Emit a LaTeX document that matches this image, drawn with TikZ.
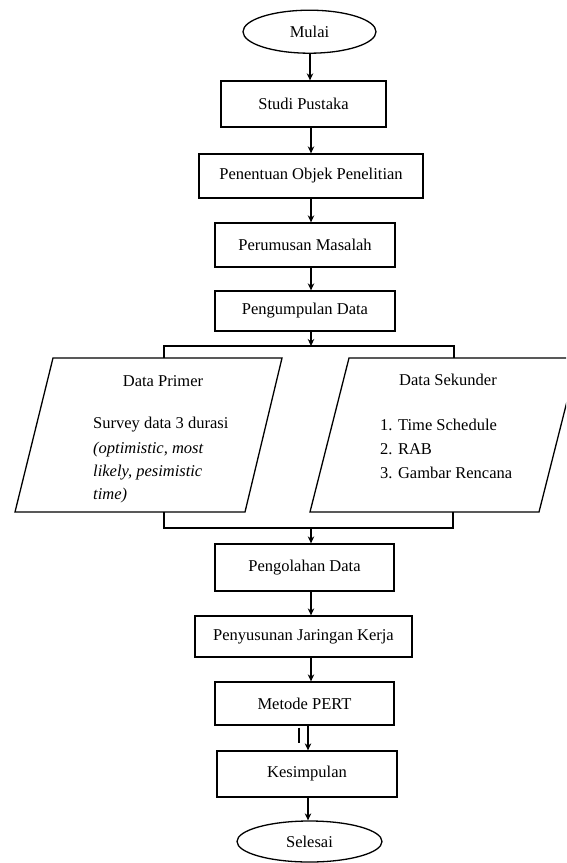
\documentclass[tikz,border=0pt]{standalone}
\usepackage{fontspec}
\setmainfont{Liberation Serif}
\usetikzlibrary{arrows.meta,shapes.geometric}
\begin{document}
\begin{tikzpicture}[x=1pt,y=-1pt,
  every node/.style={font=\fontsize{16.5}{19}\selectfont, inner sep=0pt},
  box/.style={draw, line width=1.3pt, rectangle},
  term/.style={draw, line width=1.3pt, ellipse},
  arr/.style={line width=1.3pt, -{Stealth[length=7pt,width=6.5pt]}},
  ln/.style={line width=1.3pt}]
\useasboundingbox (0,0) rectangle (566,863);
\clip (0,0) rectangle (566,863);
% nodes
\node[term, minimum width=133pt, minimum height=43pt] (mulai) at (309.5,31.7) {Mulai};
\node[box, minimum width=165pt, minimum height=46pt] (studi) at (303.5,104) {Studi Pustaka};
\node[box, minimum width=224pt, minimum height=44pt] (objek) at (311,176) {Penentuan Objek Penelitian};
\node[box, minimum width=180pt, minimum height=44pt] (rumus) at (305,245) {Perumusan Masalah};
\node[box, minimum width=180pt, minimum height=40pt] (kumpul) at (305,311) {Pengumpulan Data};
\node[box, minimum width=179pt, minimum height=47pt] (olah) at (304.5,567.5) {Pengolahan Data};
\node[box, minimum width=217pt, minimum height=41pt] (susun) at (303.5,636.5) {Penyusunan Jaringan Kerja};
\node[box, minimum width=179pt, minimum height=43pt] (pert) at (304.5,703.5) {Metode PERT};
\node[box, minimum width=180pt, minimum height=46pt] (simpul) at (307,774) {Kesimpulan};
\node[term, minimum width=145pt, minimum height=41pt] (selesai) at (309.5,841.5) {Selesai};
% parallelograms
\draw[ln] (53,358) -- (282,358) -- (245,512) -- (15,512) -- cycle;
\draw[ln] (349,358) -- (578,358) -- (539,512) -- (310,512) -- cycle;
\node (primer) at (163,381) {Data Primer};
\node[anchor=west] (p1) at (93,425) {Survey data 3 durasi};
\node[anchor=west] (p2) at (93,450) {\itshape (optimistic, most};
\node[anchor=west] (p3) at (93,473) {\itshape likely, pesimistic};
\node[anchor=west] (p4) at (93,496) {\itshape time)};
\node (sekunder) at (448,380) {Data Sekunder};
\node[anchor=west] (s1) at (380,425) {1. Time Schedule};
\node[anchor=west] (s2) at (380,449) {2. RAB};
\node[anchor=west] (s3) at (380,473) {3. Gambar Rencana};
% coordinates
\coordinate (cx) at (311,0);
\coordinate (cy) at (308,0);
\coordinate (jt) at (311,346);
\coordinate (pl) at (164,358);
\coordinate (pr) at (454,358);
\coordinate (plb) at (164,512);
\coordinate (prb) at (453,512);
\coordinate (jb) at (311,528);
\coordinate (stubA) at (299,727.5);
\coordinate (stubB) at (299,743);
% connectors
\draw[arr] (mulai.south -| 310,0) -- (studi.north -| 310,0);
\draw[arr] (studi.south -| cx) -- (objek.north -| cx);
\draw[arr] (objek.south -| cx) -- (rumus.north -| cx);
\draw[arr] (rumus.south -| cx) -- (kumpul.north -| cx);
\draw[arr] (kumpul.south -| cx) -- (jt);
\draw[ln] (pl) |- (jt) -| (pr);
\draw[ln] (plb) |- (jb) -| (prb);
\draw[arr] (jb) -- (olah.north -| cx);
\draw[arr] (olah.south -| cx) -- (susun.north -| cx);
\draw[arr] (susun.south -| cx) -- (pert.north -| cx);
\draw[arr] (pert.south -| cy) -- (simpul.north -| cy);
\draw[ln] (stubA) -- (stubB);
\draw[arr] (simpul.south -| cy) -- (selesai.north -| cy);
\end{tikzpicture}
\end{document}
